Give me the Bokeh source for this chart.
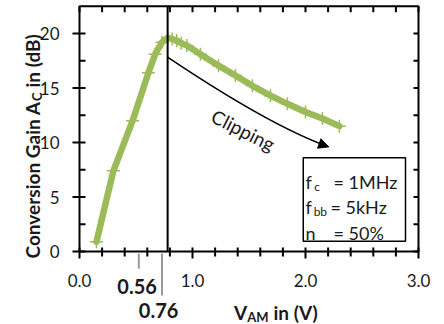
import math
from bokeh.plotting import figure
from bokeh.models import Label, Arrow, NormalHead, BoxAnnotation
from bokeh.core.properties import value
from bokeh.embed import file_html
from bokeh.resources import INLINE

# ---- data ----
v_rise = [0.15, 0.30, 0.47, 0.61, 0.67, 0.73, 0.78]
g_rise = [0.9, 7.4, 12.0, 16.4, 18.1, 19.2, 19.6]
v_fall = [0.82, 0.86, 0.90, 0.95, 1.07, 1.23, 1.38, 1.53, 1.69, 1.84, 2.00, 2.15, 2.30]
g_fall = [19.5, 19.35, 19.1, 18.9, 18.1, 17.05, 16.15, 15.2, 14.3, 13.55, 12.8, 12.2, 11.5]

x_major = [0, 1, 2, 3]
x_major_labels = ["0.0", "1.0", "2.0", "3.0"]
x_minor = [0.2, 0.4, 0.6, 0.8, 1.2, 1.4, 1.6, 1.8, 2.2, 2.4, 2.6, 2.8]
y_major = [0, 5, 10, 15, 20]
y_major_labels = ["0", "5", "10", "15", "20"]
y_minor = [2.5, 7.5, 12.5, 17.5]
x_max = 3.0
y_max = 22.5

peak_v = 0.78
mark_pos = [0.525, 0.73]
mark_text = ["0.56", "0.76"]

GREEN = "#9BBB59"
FONT = "Lato"
TXT = "#1a1a1a"

# ---- layout: the plotting frame covers the whole canvas; data box sits inside ----
W, H = 444, 324
LEFT_PX, BOTTOM_PX = 79, 73          # data origin from canvas left / bottom
PX_X = 113.0                          # pixels per volt
PX_Y = 10.9                           # pixels per dB
x_lo = -LEFT_PX / PX_X
x_hi = x_lo + W / PX_X
y_lo = -BOTTOM_PX / PX_Y
y_hi = y_lo + H / PX_Y

p = figure(width=W, height=H, x_range=(x_lo, x_hi), y_range=(y_lo, y_hi),
           x_axis_type=None, y_axis_type=None,
           output_backend="svg", toolbar_location=None,
           min_border=0, min_border_left=0, min_border_right=0,
           min_border_top=0, min_border_bottom=0)
p.xgrid.visible = False
p.ygrid.visible = False
p.outline_line_color = None
p.background_fill_color = "white"
p.border_fill_color = "white"

def dx(px):
    return px / PX_X

def dy(px):
    return px / PX_Y

# ---- axes frame and ticks ----
p.quad(left=[0], right=[x_max], bottom=[0], top=[y_max], fill_alpha=0,
       line_color="black", line_width=2)
# left axis
p.segment(x0=[-dx(7)] * len(y_major), x1=[dx(6)] * len(y_major), y0=y_major, y1=y_major,
          line_color="black", line_width=2)
p.segment(x0=[0] * len(y_minor), x1=[dx(6)] * len(y_minor), y0=y_minor, y1=y_minor,
          line_color="black", line_width=2)
# right axis
y_all = sorted(y_major + y_minor)
p.segment(x0=[x_max - dx(5)] * len(y_all), x1=[x_max] * len(y_all), y0=y_all, y1=y_all,
          line_color="black", line_width=2)
# bottom axis
p.segment(x0=x_major, x1=x_major, y0=[-dy(7)] * len(x_major), y1=[dy(4)] * len(x_major),
          line_color="black", line_width=2)
p.segment(x0=x_minor, x1=x_minor, y0=[-dy(5)] * len(x_minor), y1=[dy(4)] * len(x_minor),
          line_color="black", line_width=2)
# top axis
x_all = sorted(x_major + x_minor)
p.segment(x0=x_all, x1=x_all, y0=[y_max - dy(6)] * len(x_all), y1=[y_max] * len(x_all),
          line_color="black", line_width=2)

# tick labels
p.text(x=x_major, y=[-dy(28.5)] * len(x_major), text=x_major_labels,
       text_font=value(FONT), text_font_size=value("17px"), text_color=TXT,
       text_align="center", text_baseline="middle")
p.text(x=[-dx(20)] * len(y_major), y=y_major, text=y_major_labels,
       text_font=value(FONT), text_font_size=value("17px"), text_color=TXT,
       text_align="right", text_baseline="middle")

# ---- data ----
v_all = v_rise + v_fall
g_all = g_rise + g_fall
p.line(v_all, g_all, line_color=GREEN, line_width=6.5, line_join="round", line_cap="round")
p.scatter(v_all, g_all, marker="cross", size=13, line_color=GREEN, line_width=1.5)

# vertical line at peak
p.segment(x0=[peak_v], x1=[peak_v], y0=[0], y1=[y_max], line_color="black", line_width=2)

# clipping arrow
c_start = (0.776, 17.85)
c_ctrl = (1.69, 11.5)
c_end = (2.205, 9.6)
p.quadratic(x0=[c_start[0]], y0=[c_start[1]], x1=[c_end[0]], y1=[c_end[1]],
            cx=[c_ctrl[0]], cy=[c_ctrl[1]], line_color="black", line_width=1.5)
hx = c_end[0] - 0.15 * (c_end[0] - c_ctrl[0])
hy = c_end[1] - 0.15 * (c_end[1] - c_ctrl[1])
p.add_layout(Arrow(end=NormalHead(size=10, fill_color="black", line_color="black"),
                   x_start=hx, y_start=hy, x_end=c_end[0], y_end=c_end[1],
                   line_color="black", line_width=1.5))
p.add_layout(Label(x=1.45, y=11.15, text="Clipping", angle=-0.47, text_align="center",
                   text_baseline="middle", text_font=FONT, text_font_size="19px",
                   text_color=TXT))

# parameter box
p.add_layout(BoxAnnotation(left=1.98, right=2.885, bottom=0.95, top=8.6,
                           fill_color="white", fill_alpha=1.0,
                           line_color="black", line_width=1.5, line_alpha=1.0))
rows = [("f", "c", "= 1MHz", 6.41, 2.078, 2.248),
        ("f", "bb", "= 5kHz", 4.10, 2.072, 2.221),
        ("n", "", "= 50%", 1.71, 2.078, 2.248)]
for main, sub, rest, yb, xs, xr in rows:
    p.add_layout(Label(x=2.0, y=yb, text=main, text_font=FONT, text_font_size="18px",
                       text_baseline="alphabetic", text_align="left", text_color=TXT))
    if sub:
        p.add_layout(Label(x=xs, y=yb - 0.46, text=sub, text_font=FONT, text_font_size="12px",
                           text_baseline="alphabetic", text_align="left", text_color=TXT))
    p.add_layout(Label(x=xr, y=yb, text=rest, text_font=FONT, text_font_size="18px",
                       text_baseline="alphabetic", text_align="left", text_color=TXT))

# gray markers for 0.56 / 0.76
mark_end = [-1.59, -4.04]
p.segment(x0=mark_pos, x1=mark_pos, y0=[-0.18] * len(mark_pos), y1=mark_end,
          line_color="#999999", line_width=2)
mark_lbl_x = [0.51, 0.70]
mark_lbl_y = [-3.21, -5.45]
p.text(x=mark_lbl_x, y=mark_lbl_y, text=mark_text, text_font=value(FONT),
       text_font_size=value("20px"), text_font_style="bold", text_color=TXT,
       text_align="center", text_baseline="middle")

# x axis title: V_AM in (V)
p.add_layout(Label(x=1.484, y=-5.62, text="V", text_font=FONT, text_font_size="19px",
                   text_font_style="bold", text_align="right", text_baseline="alphabetic",
                   text_color=TXT))
p.add_layout(Label(x=1.484, y=-5.98, text="AM", text_font=FONT, text_font_size="13px",
                   text_font_style="bold", text_align="left", text_baseline="alphabetic",
                   text_color=TXT))
p.add_layout(Label(x=1.717, y=-5.62, text="in (V)", text_font=FONT, text_font_size="19px",
                   text_font_style="bold", text_align="left", text_baseline="alphabetic",
                   text_color=TXT))

# y axis title: Conversion Gain A_C in (dB)
p.add_layout(Label(x=-0.416, y=13.76, text="Conversion Gain A", angle=math.pi / 2,
                   text_font=FONT, text_font_size="19px", text_font_style="bold",
                   text_align="right", text_baseline="alphabetic", text_color=TXT))
p.add_layout(Label(x=-0.372, y=13.80, text="C", angle=math.pi / 2,
                   text_font=FONT, text_font_size="13px", text_font_style="bold",
                   text_align="left", text_baseline="alphabetic", text_color=TXT))
p.add_layout(Label(x=-0.416, y=15.05, text="in (dB)", angle=math.pi / 2,
                   text_font=FONT, text_font_size="19px", text_font_style="bold",
                   text_align="left", text_baseline="alphabetic", text_color=TXT))

open("out.html", "w").write(file_html(p, INLINE))
